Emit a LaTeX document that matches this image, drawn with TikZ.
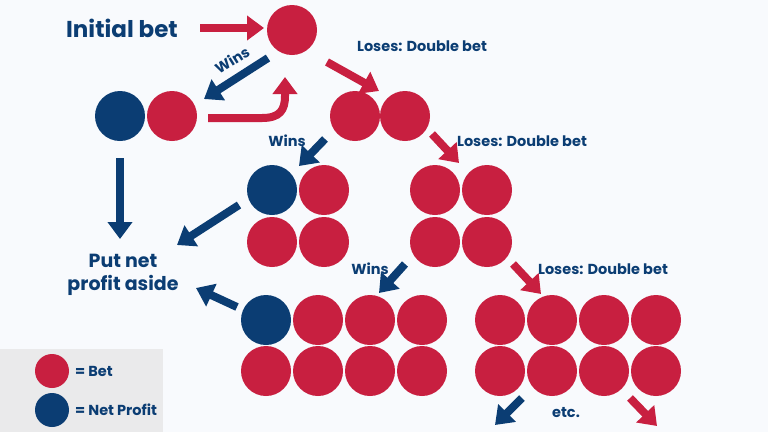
\documentclass[tikz,border=0pt]{standalone}
\usepackage{fontspec}
\setmainfont{Poppins}[BoldFont={Poppins Bold}]
\usetikzlibrary{arrows.meta}
\definecolor{navy}{HTML}{0B3D73}
\definecolor{betred}{HTML}{C81F40}
\definecolor{bgc}{HTML}{F8FAFD}
\definecolor{legc}{HTML}{EAEAEB}
\begin{document}
\begin{tikzpicture}[x=1pt,y=-1pt,
  bet/.style={circle,fill=betred,minimum size=50pt,inner sep=0pt},
  prof/.style={circle,fill=navy,minimum size=50pt,inner sep=0pt},
  lbet/.style={circle,fill=betred,minimum size=34pt,inner sep=0pt},
  lprof/.style={circle,fill=navy,minimum size=34pt,inner sep=0pt},
  redarr/.style={draw=betred,line width=8pt,-{Triangle[length=17pt,width=24pt]}},
  bluearr/.style={draw=navy,line width=8pt,-{Triangle[length=17pt,width=24pt]}},
  lbl/.style={text=navy,font=\bfseries\fontsize{14.5}{16}\selectfont,inner sep=0pt},
  big/.style={text=navy,font=\bfseries\fontsize{23}{27}\selectfont,inner sep=0pt},
  mid/.style={text=navy,font=\bfseries\fontsize{19}{23}\selectfont,inner sep=0pt,align=center}]
\fill[bgc] (0,0) rectangle (768,432);
\useasboundingbox (0,0) rectangle (768,432);
\fill[legc] (0,349) rectangle (163,432);
% circles
\node[bet] (c0) at (292,30) {};
\node[prof] (a1) at (120,116) {};
\node[bet] (a2) at (172,116) {};
\node[bet] (b1) at (355,116) {};
\node[bet] (b2) at (405,116) {};
\node[prof] (d1) at (272,190) {};
\node[bet] (d2) at (324,190) {};
\node[bet] (d3) at (272,242) {};
\node[bet] (d4) at (324,242) {};
\node[bet] (e1) at (435,190) {};
\node[bet] (e2) at (487,190) {};
\node[bet] (e3) at (435,242) {};
\node[bet] (e4) at (487,242) {};
\node[prof] (f1) at (266,320) {};
\node[bet] (f2) at (318,320) {};
\node[bet] (f3) at (370,320) {};
\node[bet] (f4) at (422,320) {};
\node[bet] (f5) at (266,371) {};
\node[bet] (f6) at (318,371) {};
\node[bet] (f7) at (370,371) {};
\node[bet] (f8) at (422,371) {};
\node[bet] (g1) at (500,320) {};
\node[bet] (g2) at (552,320) {};
\node[bet] (g3) at (604,320) {};
\node[bet] (g4) at (656,320) {};
\node[bet] (g5) at (500,371) {};
\node[bet] (g6) at (552,371) {};
\node[bet] (g7) at (604,371) {};
\node[bet] (g8) at (656,371) {};
% legend
\node[lbet] (lb) at (52,371) {};
\node[lprof] (lp) at (52,410) {};
\node[lbl,anchor=west] (lbt) at (75,371) {= Bet};
\node[lbl,anchor=west] (lpt) at (75,410) {= Net Profit};
% texts
\node[big] (init) at (122,28) {Initial bet};
\node[mid] (put) at (123,275) {Put net\\profit aside};
\node[lbl] (l1) at (422,46) {Loses: Double bet};
\node[lbl,rotate=32] (w1) at (232,60) {Wins};
\node[lbl] (w2) at (287,141) {Wins};
\node[lbl] (l2) at (522,141) {Loses: Double bet};
\node[lbl] (w3) at (370,269) {Wins};
\node[lbl] (l3) at (603,269) {Loses: Double bet};
\node[lbl] (etc) at (566,413) {etc.};
% arrow endpoints
\coordinate (i0) at (200,28);
\coordinate (i1) at (264,28);
\coordinate (wa0) at (268,58);
\coordinate (wa1) at (204,99);
\coordinate (la0) at (327,62);
\coordinate (la1) at (379,91);
\coordinate (cu0) at (208,118);
\coordinate (cu1) at (285,77);
\coordinate (dn0) at (120,158);
\coordinate (dn1) at (120,239);
\coordinate (wb0) at (325,139);
\coordinate (wb1) at (299,166);
\coordinate (lb0) at (432,134);
\coordinate (lb1) at (459,163);
\coordinate (pa0) at (239,205);
\coordinate (pa1) at (177,245);
\coordinate (pb0) at (237,307);
\coordinate (pb1) at (196,288);
\coordinate (wc0) at (405,264);
\coordinate (wc1) at (379,293);
\coordinate (lc0) at (513,264);
\coordinate (lc1) at (541,294);
\coordinate (bd0) at (522,398);
\coordinate (bd1) at (495,425);
\coordinate (rd0) at (630,398);
\coordinate (rd1) at (657,426);
% arrows
\draw[redarr] (i0) -- (i1);
\draw[bluearr] (wa0) -- (wa1);
\draw[redarr] (la0) -- (la1);
\draw[redarr] (cu0) -- (262,118) .. controls (280,118) and (285,110) .. (285,96) -- (cu1);
\draw[bluearr] (dn0) -- (dn1);
\draw[bluearr] (wb0) -- (wb1);
\draw[redarr] (lb0) -- (lb1);
\draw[bluearr] (pa0) -- (pa1);
\draw[bluearr] (pb0) -- (pb1);
\draw[bluearr] (wc0) -- (wc1);
\draw[redarr] (lc0) -- (lc1);
\draw[bluearr] (bd0) -- (bd1);
\draw[redarr] (rd0) -- (rd1);
\end{tikzpicture}
\end{document}
